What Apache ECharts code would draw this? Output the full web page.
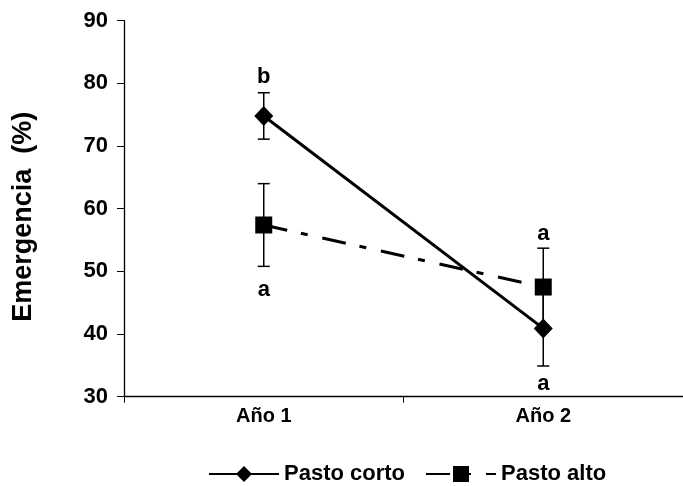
<!DOCTYPE html>
<html><head><meta charset="utf-8">
<script src="https://cdn.jsdelivr.net/npm/echarts@6/dist/echarts.min.js"></script>
<style>html,body{margin:0;padding:0;background:#fff}#c{width:683px;height:486px}</style>
</head><body><div id="c"></div>
<script>
const categories = ['Año 1', 'Año 2'];
const cortoMean = [74.8, 40.9];
const cortoErr = [3.7, 6.0];
const altoMean = [57.4, 47.5];
const altoErr = [6.6, 6.2];
const cortoLetters = ['b', 'a'];
const altoLetters = ['a', 'a'];
const yTicks = [30, 40, 50, 60, 70, 80, 90];

const FONT = 'Liberation Sans, Arial, sans-serif';

// letter placement style: side (1 above, -1 below) and pixel gap from the error cap
const cortoSide = [1, -1], cortoGap = [5, 7];
const altoSide = [-1, 1], altoGap = [13, 3];

function errData(mean, err) {
  return mean.map((m, i) => [i, m - err[i], m + err[i]]);
}
function errRender(params, api) {
  const x = api.value(0);
  const lo = api.coord([x, api.value(1)]);
  const hi = api.coord([x, api.value(2)]);
  const w = 6;
  const st = { stroke: '#000', lineWidth: 1.5 };
  return { type: 'group', children: [
    { type: 'line', shape: { x1: lo[0], y1: lo[1], x2: hi[0], y2: hi[1] }, style: st },
    { type: 'line', shape: { x1: lo[0] - w, y1: lo[1], x2: lo[0] + w, y2: lo[1] }, style: st },
    { type: 'line', shape: { x1: hi[0] - w, y1: hi[1], x2: hi[0] + w, y2: hi[1] }, style: st }
  ]};
}
function letterData(mean, err, letters, side) {
  return mean.map((m, i) => [i, side[i] > 0 ? m + err[i] : m - err[i], side[i], letters[i]]);
}
function makeLetterRender(gaps) {
  return function (params, api) {
    const p = api.coord([api.value(0), api.value(1)]);
    const s = api.value(2);
    const g = gaps[params.dataIndex];
    return { type: 'text', x: p[0], y: s > 0 ? p[1] - g : p[1] + g,
      style: { text: api.value(3), fill: '#000', font: 'bold 22px ' + FONT,
        align: 'center', verticalAlign: s > 0 ? 'bottom' : 'top' } };
  };
}

const chart = echarts.init(document.getElementById('c'), null, { renderer: 'canvas' });
chart.setOption({
  animation: false,
  backgroundColor: '#fff',
  grid: { left: 124, right: -6, top: 20.7, bottom: 89.3 },
  legend: {
    top: 458, left: 203, itemWidth: 70, itemHeight: 20, itemGap: 20,
    data: ['Pasto corto', 'Pasto alto'],
    textStyle: { fontFamily: FONT, fontWeight: 'bold', fontSize: 22, color: '#000' }
  },
  xAxis: {
    type: 'category', data: categories, boundaryGap: true,
    axisLine: { lineStyle: { color: '#000', width: 1.3 } },
    axisTick: { show: true, length: 6, lineStyle: { color: '#000' } },
    axisLabel: { fontFamily: FONT, fontWeight: 'bold', fontSize: 20, color: '#000', margin: 10 }
  },
  yAxis: {
    type: 'value', min: yTicks[0], max: yTicks[yTicks.length - 1], interval: 10,
    name: 'Emergencia  (%)', nameLocation: 'middle', nameGap: 87, nameRotate: 90,
    nameTextStyle: { fontFamily: FONT, fontWeight: 'bold', fontSize: 27, color: '#000', padding: [0, 16, 0, 0] },
    axisLine: { show: true, lineStyle: { color: '#000', width: 1.3 } },
    axisTick: { show: true, length: 7, lineStyle: { color: '#000' } },
    splitLine: { show: false },
    axisLabel: { fontFamily: FONT, fontWeight: 'bold', fontSize: 22, color: '#000', margin: 16 }
  },
  series: [
    { name: 'Pasto corto', type: 'line', data: cortoMean, symbol: 'diamond', symbolSize: [19, 20],
      lineStyle: { color: '#000', width: 3 }, itemStyle: { color: '#000' }, z: 3 },
    { name: 'Pasto alto', type: 'line', data: altoMean, symbol: 'rect', symbolSize: 17,
      lineStyle: { color: '#000', width: 3, type: [24, 14, 7, 15] }, itemStyle: { color: '#000' }, z: 3 },
    { type: 'custom', renderItem: errRender, data: errData(cortoMean, cortoErr), z: 2, silent: true },
    { type: 'custom', renderItem: errRender, data: errData(altoMean, altoErr), z: 2, silent: true },
    { type: 'custom', renderItem: makeLetterRender(cortoGap), data: letterData(cortoMean, cortoErr, cortoLetters, cortoSide), z: 4, silent: true },
    { type: 'custom', renderItem: makeLetterRender(altoGap), data: letterData(altoMean, altoErr, altoLetters, altoSide), z: 4, silent: true }
  ]
});
</script></body></html>
